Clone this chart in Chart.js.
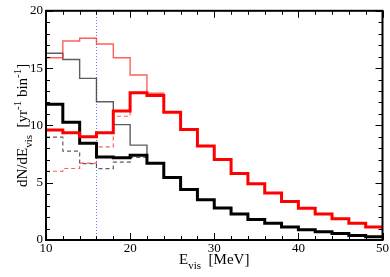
<!DOCTYPE html>
<html>
<head>
<meta charset="utf-8">
<script src="https://cdn.jsdelivr.net/npm/chart.js@4/dist/chart.umd.min.js"></script>
<style>
html,body{margin:0;padding:0;background:#fff;}
#wrap{width:390px;height:277px;position:relative;}
</style>
</head>
<body>
<div id="wrap"><canvas id="c"></canvas></div>
<script>
// ---- data (bin edges in MeV, bin contents in yr^-1 bin^-1) ----
const binEdges = [10,12,14,16,18,20,22,24,26,28,30,32,34,36,38,40,42,44,46,48,50];
const thickRed   = [9.6,9.36,9.0,9.36,11.25,12.85,12.6,11.15,9.65,8.2,7.02,5.8,4.9,4.1,3.35,2.77,2.27,1.85,1.47,1.13];
const thickBlack = [11.85,10.27,8.45,7.25,7.18,7.4,6.7,5.45,4.4,3.52,2.8,2.27,1.79,1.47,1.13,0.9,0.71,0.57,0.4,0.28];
const thinRed    = [15.9,17.36,17.6,17.1,15.9,14.4,12.8,11.15,9.65,8.2,7.02,5.8,4.9,4.1,3.35,2.77,2.27,1.85,1.47,1.13];
const thinBlack  = [16.3,15.75,14.1,12.06,10.07,8.28,6.75,5.45,4.4,3.52,2.8,2.27,1.79,1.47,1.13,0.9,0.71,0.57,0.4,0.28];
const dashRed    = [6.0,6.24,6.7,8.12,10.8,12.8,12.6,11.15,9.65,8.2,7.02,5.8,4.9,4.1,3.35,2.77,2.27,1.85,1.47,1.13];
const dashBlack  = [8.97,7.75,6.67,6.22,6.8,7.2,6.7,5.45,4.4,3.52,2.8,2.27,1.79,1.47,1.13,0.9,0.71,0.57,0.4,0.28];
const thresholdE = 16;
const xMajorTicks = [10,20,30,40,50];
const xMinorTicks = [12,14,16,18,22,24,26,28,32,34,36,38,42,44,46,48];
const yMajorTicks = [0,5,10,15,20];
const yMinorTicks = [1,2,3,4,6,7,8,9,11,12,13,14,16,17,18,19];

function hist(vals){
  const pts = vals.map((v,i)=>({x:binEdges[i], y:v}));
  pts.push({x:binEdges[binEdges.length-1], y:vals[vals.length-1]});
  return pts;
}
function ds(vals, color, width, dash){
  return {data:hist(vals), borderColor:color, borderWidth:width, borderDash:dash||[],
          stepped:'before', pointRadius:0, fill:false, tension:0};
}

const SERIF = "'Liberation Serif','DejaVu Serif',serif";

function drawRich(ctx, segs, size){
  let w = 0;
  const parts = segs.map(s=>{
    const fs = s.t==='n'? size : Math.round(size*0.7);
    ctx.font = fs+'px '+SERIF;
    const m = ctx.measureText(s.s).width;
    const r = {s:s.s, fs, w:m, dy: s.t==='sub'? size*0.3 : (s.t==='sup'? -size*0.42 : 0)};
    w += m; return r;
  });
  let x = -w/2;
  parts.forEach(p=>{
    ctx.font = p.fs+'px '+SERIF;
    ctx.fillText(p.s, x, p.dy);
    x += p.w;
  });
}

const framePlugin = {
  id:'frame',
  afterDraw(chart){
    const {ctx, chartArea:a, scales:{x, y}} = chart;
    ctx.save();
    ctx.strokeStyle = '#000';
    ctx.lineWidth = 1;
    ctx.beginPath();
    xMajorTicks.forEach(v=>{ const p = Math.round(x.getPixelForValue(v))+0.5;
      ctx.moveTo(p,a.bottom); ctx.lineTo(p,a.bottom-7);
      ctx.moveTo(p,a.top); ctx.lineTo(p,a.top+7); });
    xMinorTicks.forEach(v=>{ const p = Math.round(x.getPixelForValue(v))+0.5;
      ctx.moveTo(p,a.bottom); ctx.lineTo(p,a.bottom-4);
      ctx.moveTo(p,a.top); ctx.lineTo(p,a.top+4); });
    yMajorTicks.forEach(v=>{ const p = Math.round(y.getPixelForValue(v))+0.5;
      ctx.moveTo(a.left,p); ctx.lineTo(a.left+7,p);
      ctx.moveTo(a.right,p); ctx.lineTo(a.right-7,p); });
    yMinorTicks.forEach(v=>{ const p = Math.round(y.getPixelForValue(v))+0.5;
      ctx.moveTo(a.left,p); ctx.lineTo(a.left+4,p);
      ctx.moveTo(a.right,p); ctx.lineTo(a.right-4,p); });
    ctx.stroke();
    ctx.lineWidth = 2;
    ctx.strokeRect(a.left, a.top, a.right-a.left, a.bottom-a.top);

    ctx.fillStyle = '#000';
    ctx.textBaseline = 'alphabetic';
    ctx.textAlign = 'left';
    ctx.save();
    ctx.translate((a.left+a.right)/2, 264);
    drawRich(ctx, [{s:'E',t:'n'},{s:'vis',t:'sub'},{s:'  [MeV]',t:'n'}], 15);
    ctx.restore();
    ctx.save();
    ctx.translate(27, (a.top+a.bottom)/2);
    ctx.rotate(-Math.PI/2);
    drawRich(ctx, [{s:'dN/dE',t:'n'},{s:'vis',t:'sub'},{s:'  [yr',t:'n'},{s:'-1',t:'sup'},{s:' bin',t:'n'},{s:'-1',t:'sup'},{s:']',t:'n'}], 15);
    ctx.restore();
    ctx.restore();
  }
};

new Chart(document.getElementById('c'), {
  type:'line',
  data:{datasets:[
    ds(thickRed,'#ff0000',3),
    ds(thickBlack,'#000000',3),
    ds(thinRed,'rgba(255,40,40,0.75)',1.4),
    ds(thinBlack,'rgba(40,40,40,0.75)',1.4),
    ds(dashRed,'rgba(255,40,40,0.75)',1.2,[4,3]),
    ds(dashBlack,'rgba(40,40,40,0.75)',1.2,[4,3]),
    {data:[{x:thresholdE,y:0},{x:thresholdE,y:20}], borderColor:'#7070ff', borderWidth:1,
     borderDash:[1,2], pointRadius:0, fill:false}
  ]},
  options:{
    responsive:true, maintainAspectRatio:false, animation:false,
    layout:{padding:{left:0,right:7,top:5,bottom:0}},
    plugins:{legend:{display:false}, tooltip:{enabled:false}},
    scales:{
      x:{type:'linear', min:10, max:50,
         grid:{display:true, drawOnChartArea:false, drawTicks:false},
         border:{display:false},
         ticks:{stepSize:10, padding:1, color:'#000', font:{family:SERIF, size:13}, maxRotation:0},
         afterFit(s){ s.height = 37; }},
      y:{type:'linear', min:0, max:20,
         grid:{display:true, drawOnChartArea:false, drawTicks:false},
         border:{display:false},
         ticks:{stepSize:5, padding:3, color:'#000', font:{family:SERIF, size:13}},
         afterFit(s){ s.width = 46; }}
    }
  },
  plugins:[framePlugin]
});
</script>
</body>
</html>
